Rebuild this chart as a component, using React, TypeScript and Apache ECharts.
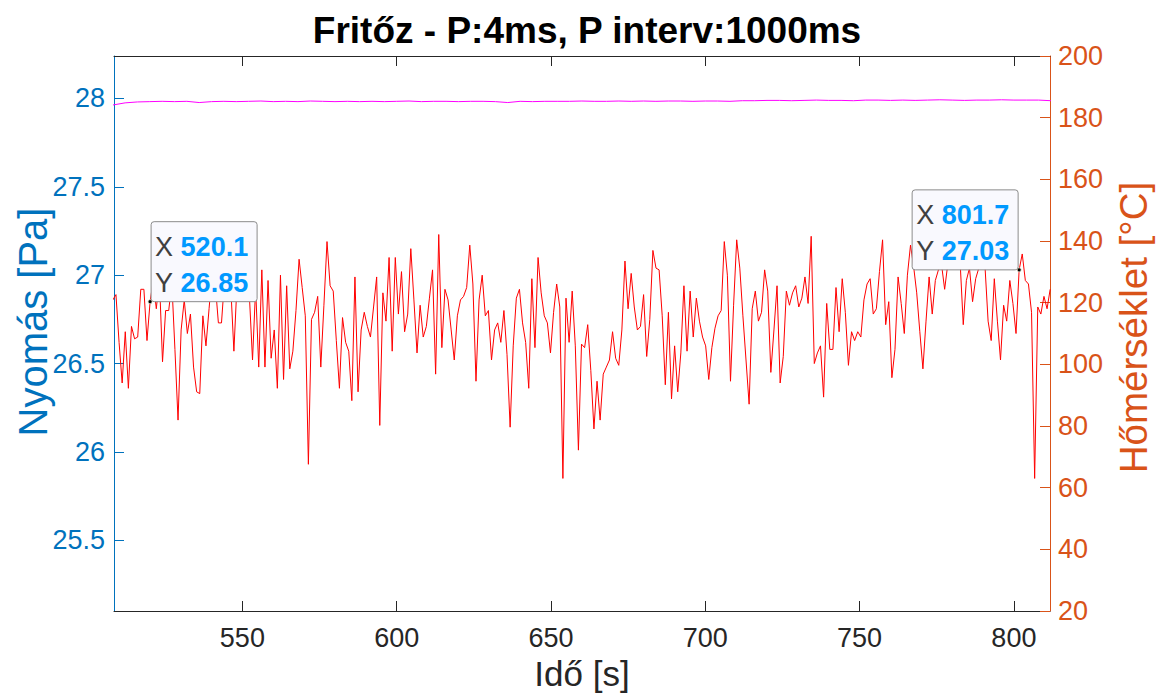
import { useEffect, useRef } from 'react';
import * as echarts from 'echarts';

const TITLE = 'Fritőz - P:4ms, P interv:1000ms';
const X_NAME = 'Idő [s]';
const Y_LEFT_NAME = 'Nyomás [Pa]';
const Y_RIGHT_NAME = 'Hőmérséklet [°C]';

const X_MIN = 508.4;
const X_MAX = 811.7;
const X_TICKS = [550, 600, 650, 700, 750, 800];
const P_MIN = 25.1;
const P_MAX = 28.24;
const P_TICKS = [25.5, 26, 26.5, 27, 27.5, 28];
const T_MIN = 20;
const T_MAX = 200;
const T_INTERVAL = 20;

// pressure samples (Pa), one every P_STEP seconds from P_T0
const P_T0 = 508.03;
const P_STEP = 1.00571;
const PRESSURE = [
  26.86, 26.89, 26.62, 26.39, 26.68, 26.36, 26.71, 26.64, 26.65, 26.92,
  26.92, 26.63, 26.85, 26.97, 26.81, 26.98, 26.51, 26.80, 26.80, 26.96,
  26.58, 26.18, 26.69, 26.86, 26.67, 26.78, 26.48, 26.34, 26.33, 26.77,
  26.60, 26.81, 27.02, 26.95, 26.73, 26.73, 26.98, 27.06, 26.93, 26.57,
  26.95, 27.08, 26.90, 27.00, 26.88, 26.52, 26.93, 26.48, 27.03, 26.48,
  26.97, 26.53, 26.69, 26.36, 27.00, 26.41, 26.94, 26.47, 26.57, 26.80,
  27.09, 26.93, 26.77, 25.93, 26.75, 26.79, 26.88, 26.48, 26.83, 27.19,
  26.94, 26.91, 26.63, 26.36, 26.76, 26.62, 26.57, 26.29, 26.99, 26.34,
  26.69, 26.79, 26.71, 26.65, 26.82, 26.99, 26.15, 26.90, 26.74, 27.10,
  26.57, 27.10, 26.78, 27.02, 26.68, 26.78, 27.15, 26.86, 26.56, 26.83,
  26.65, 26.71, 26.87, 27.03, 26.44, 27.23, 26.59, 26.92, 26.86, 26.69,
  26.52, 26.77, 26.86, 26.88, 26.93, 27.17, 26.95, 26.40, 26.86, 27.00,
  26.77, 26.80, 26.52, 26.69, 26.73, 26.62, 26.80, 26.55, 26.14, 26.60,
  26.87, 26.92, 26.73, 26.62, 26.36, 26.98, 26.59, 27.10, 26.90, 26.77,
  26.73, 26.56, 26.79, 26.95, 26.82, 25.85, 26.87, 26.62, 26.91, 26.60,
  26.01, 26.61, 26.59, 26.72, 26.46, 26.13, 26.40, 26.18, 26.44, 26.48,
  26.52, 26.68, 26.53, 26.49, 26.69, 27.08, 26.81, 27.01, 26.82, 26.69,
  26.71, 26.89, 26.54, 26.75, 27.14, 27.04, 27.03, 26.77, 26.38, 26.79,
  26.30, 26.60, 26.34, 26.56, 26.94, 26.57, 26.91, 26.65, 26.87, 26.74,
  26.65, 26.60, 26.41, 26.59, 26.70, 26.77, 26.80, 27.19, 27.00, 26.40,
  26.83, 27.20, 27.04, 26.77, 26.52, 26.27, 26.81, 26.91, 26.74, 26.79,
  27.03, 26.91, 26.45, 26.69, 26.94, 26.39, 26.54, 26.91, 26.83, 26.90,
  26.94, 26.82, 26.87, 26.99, 26.84, 27.22, 26.50, 26.56, 26.60, 26.31,
  26.84, 26.58, 26.58, 26.93, 26.68, 26.98, 26.79, 26.49, 26.68, 26.63,
  26.68, 26.65, 26.86, 26.95, 26.98, 26.78, 26.81, 27.02, 27.20, 26.72,
  26.85, 26.42, 26.58, 26.99, 26.84, 26.67, 27.00, 27.17, 27.05, 26.90,
  26.68, 26.47, 26.74, 26.99, 26.78, 26.97, 27.03, 27.06, 26.92, 27.06,
  27.10, 27.04, 27.12, 27.07, 26.72, 26.97, 27.04, 26.85, 26.98, 27.04,
  27.08, 27.05, 26.74, 26.63, 26.98, 26.74, 26.52, 26.83, 26.74, 26.97,
  26.84, 26.67, 27.03, 27.12, 26.97, 26.95, 26.79, 25.85, 26.82, 26.78,
  26.88, 26.81, 26.92,
];

// temperature samples (°C), one every T_STEP seconds from T_T0
const T_T0 = 508;
const T_STEP = 4;
const TEMPERATURE = [
  184.1, 184.8, 185.1, 185.2, 185.3, 185.2, 185.3, 184.9, 185.2, 185.3,
  185.2, 185.3, 185.4, 185.2, 185.3, 185.2, 185.4, 185.3, 185.2, 185.3,
  185.2, 185.3, 185.2, 185.3, 185.4, 185.2, 185.3, 185.3, 185.2, 185.3,
  185.3, 185.2, 184.9, 185.3, 185.2, 185.3, 185.3, 185.3, 185.4, 185.3,
  185.3, 185.4, 185.3, 185.4, 185.3, 185.4, 185.4, 185.3, 185.4, 185.4,
  185.3, 185.5, 185.5, 185.6, 185.6, 185.5, 185.6, 185.7, 185.6, 185.6,
  185.5, 185.7, 185.7, 185.6, 185.7, 185.6, 185.7, 185.8, 185.7, 185.6,
  185.7, 185.7, 185.8, 185.7, 185.7, 185.7, 185.5,
];

// data tips (time, pressure)
const DATATIP_X = [520.1, 801.7];
const DATATIP_Y = [26.85, 27.03];
const DATATIP_SIDE = ['right', 'left'];

const FONT = "'Liberation Sans', Arial, Helvetica, sans-serif";
const BLUE = '#0072BD';
const ORANGE = '#D95319';
const DARK = '#262626';
const TICK_FONT = 27;

export default function App() {
  const ref = useRef<HTMLDivElement>(null);

  useEffect(() => {
    if (!ref.current) return;
    const chart = echarts.init(ref.current, null, { renderer: 'svg' });

    const pData = PRESSURE.map((v, i) => [P_T0 + i * P_STEP, v]);
    const tData = TEMPERATURE.map((v, i) => [T_T0 + i * T_STEP, v]);

    const option: any = {
      animation: false,
      backgroundColor: '#ffffff',
      textStyle: { fontFamily: FONT },
      title: {
        text: TITLE,
        left: 582,
        top: 7,
        textAlign: 'center',
        textStyle: { fontSize: 37, fontWeight: 'bold', color: '#000000', fontFamily: FONT },
      },
      grid: { left: 114, right: 109, top: 56, bottom: 86, containLabel: false, outerBoundsMode: 'none' },
      xAxis: [
        {
          type: 'value',
          position: 'bottom',
          min: X_MIN,
          max: X_MAX,
          name: X_NAME,
          nameLocation: 'middle',
          nameGap: 45,
          nameTextStyle: { fontSize: 35, color: DARK, fontFamily: FONT },
          axisLine: { show: true, onZero: false, lineStyle: { color: DARK, width: 1 } },
          axisTick: { show: true, inside: true, length: 10, customValues: X_TICKS, lineStyle: { color: DARK } },
          axisLabel: { show: true, customValues: X_TICKS, margin: 13, fontSize: TICK_FONT, color: DARK, fontFamily: FONT },
          splitLine: { show: false },
        },
        {
          type: 'value',
          position: 'top',
          min: X_MIN,
          max: X_MAX,
          axisLine: { show: true, onZero: false, lineStyle: { color: DARK, width: 1 } },
          axisTick: { show: true, inside: true, length: 10, customValues: X_TICKS, lineStyle: { color: DARK } },
          axisLabel: { show: false },
          splitLine: { show: false },
        },
      ],
      yAxis: [
        {
          type: 'value',
          position: 'left',
          min: P_MIN,
          max: P_MAX,
          axisLine: { show: true, onZero: false, lineStyle: { color: BLUE, width: 1 } },
          axisTick: { show: true, inside: true, length: 10, customValues: P_TICKS, lineStyle: { color: BLUE } },
          axisLabel: { show: true, customValues: P_TICKS, margin: 9, fontSize: TICK_FONT, color: BLUE, fontFamily: FONT },
          splitLine: { show: false },
        },
        {
          type: 'value',
          position: 'right',
          min: T_MIN,
          max: T_MAX,
          interval: T_INTERVAL,
          axisLine: { show: true, onZero: false, lineStyle: { color: ORANGE, width: 1 } },
          axisTick: { show: true, inside: true, length: 10, lineStyle: { color: ORANGE } },
          axisLabel: { show: true, margin: 8, fontSize: TICK_FONT, color: ORANGE, fontFamily: FONT },
          splitLine: { show: false },
        },
      ],
      series: [
        {
          type: 'line',
          name: 'Hőmérséklet',
          xAxisIndex: 0,
          yAxisIndex: 1,
          data: tData,
          symbol: 'none',
          showSymbol: false,
          lineStyle: { color: '#FF00FF', width: 1 },
          clip: true,
          z: 2,
        },
        {
          type: 'line',
          name: 'Nyomás',
          xAxisIndex: 0,
          yAxisIndex: 0,
          data: pData,
          symbol: 'none',
          showSymbol: false,
          lineStyle: { color: '#FF0000', width: 1 },
          clip: true,
          z: 3,
        },
      ],
    };

    chart.setOption(option);

    const BOX_W = 106;
    const BOX_H = 80;
    const rich = {
      k: { fontSize: 27, fill: '#404040', fontFamily: FONT },
      v: { fontSize: 27, fill: '#0099FF', fontWeight: 'bold', fontFamily: FONT },
    };
    const graphics: any[] = [
      {
        type: 'text',
        x: 33,
        y: 322,
        rotation: Math.PI / 2,
        style: {
          text: Y_LEFT_NAME,
          fontSize: 40,
          fontFamily: FONT,
          fill: BLUE,
          align: 'center',
          verticalAlign: 'middle',
        },
      },
      {
        type: 'text',
        x: 1133,
        y: 327.5,
        rotation: Math.PI / 2,
        style: {
          text: Y_RIGHT_NAME,
          fontSize: 38.5,
          fontFamily: FONT,
          fill: ORANGE,
          align: 'center',
          verticalAlign: 'middle',
        },
      },
    ];
    DATATIP_X.forEach((xv, i) => {
      const yv = DATATIP_Y[i];
      const pt = chart.convertToPixel({ xAxisIndex: 0, yAxisIndex: 0 }, [xv, yv]) as number[];
      const px = pt[0];
      const py = pt[1];
      const bx = DATATIP_SIDE[i] === 'right' ? px + 1 : px - 1 - BOX_W;
      const by = py - BOX_H;
      graphics.push({
        type: 'group',
        z: 100,
        children: [
          {
            type: 'rect',
            z: 100,
            shape: { x: bx, y: by, width: BOX_W, height: BOX_H, r: 3 },
            style: { fill: '#F9F9FE', stroke: '#8C8C8C', lineWidth: 1 },
          },
          {
            type: 'text',
            z: 101,
            x: bx + 4,
            y: by + 25,
            style: {
              text: '{k|X }{v|' + xv.toFixed(1) + '}',
              verticalAlign: 'middle',
              align: 'left',
              rich,
            },
          },
          {
            type: 'text',
            z: 101,
            x: bx + 4,
            y: by + 61,
            style: {
              text: '{k|Y }{v|' + yv.toFixed(2) + '}',
              verticalAlign: 'middle',
              align: 'left',
              rich,
            },
          },
          {
            type: 'circle',
            z: 102,
            shape: { cx: px, cy: py, r: 2 },
            style: { fill: '#000000', stroke: '#d8d8c0', lineWidth: 0.8 },
          },
        ],
      });
    });
    chart.setOption({ graphic: graphics });

    return () => {
      chart.dispose();
    };
  }, []);

  return (
    <div
      ref={ref}
      style={{ position: 'fixed', left: 0, top: 0, width: 1159, height: 697, background: '#fff' }}
    />
  );
}
